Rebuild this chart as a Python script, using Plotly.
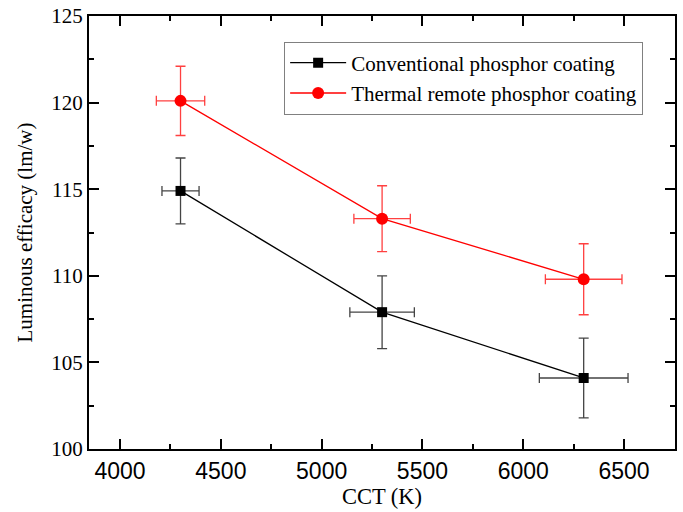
import plotly.graph_objects as go

cct = [4300, 5300, 6300]
conv_eff = [114.9, 107.9, 104.1]
conv_eff_err = [1.9, 2.1, 2.3]
conv_cct_err = [92, 160, 220]
remote_eff = [120.1, 113.3, 109.8]
remote_eff_err = [2.0, 1.9, 2.05]
remote_cct_err = [120, 140, 190]

serif = "Liberation Serif, Times New Roman, serif"
sans = "Liberation Sans, Arial, sans-serif"

fig = go.Figure()
fig.add_trace(go.Scatter(
    x=cct, y=conv_eff, mode="lines+markers", name="Conventional phosphor coating",
    line=dict(color="black", width=1.3),
    marker=dict(symbol="square", size=10, color="black"),
    error_y=dict(type="data", array=conv_eff_err, color="#444444", thickness=1.3, width=5),
    error_x=dict(type="data", array=conv_cct_err, color="#444444", thickness=1.3, width=5),
))
fig.add_trace(go.Scatter(
    x=cct, y=remote_eff, mode="lines+markers", name="Thermal remote phosphor coating",
    line=dict(color="red", width=1.3),
    marker=dict(symbol="circle", size=12, color="red"),
    error_y=dict(type="data", array=remote_eff_err, color="#ff4040", thickness=1.3, width=5),
    error_x=dict(type="data", array=remote_cct_err, color="#ff4040", thickness=1.3, width=5),
))

fig.update_layout(
    width=683, height=512,
    margin=dict(l=89, r=8, t=16, b=63),
    plot_bgcolor="white", paper_bgcolor="white",
    showlegend=True,
    legend=dict(
        x=0.333, y=0.941, xanchor="left", yanchor="top",
        bordercolor="#808080", borderwidth=1, bgcolor="white",
        font=dict(family=serif, size=21, color="black"),
        tracegroupgap=0, itemwidth=56,
        entrywidth=350, entrywidthmode="pixels",
    ),
    xaxis=dict(
        range=[3846, 6753], tickvals=[4000, 4500, 5000, 5500, 6000, 6500],
        ticks="inside", ticklen=10, tickwidth=2, tickcolor="black",
        minor=dict(ticks="inside", dtick=250, tick0=4000, ticklen=5, tickwidth=2, tickcolor="black"),
        showline=True, linewidth=2, linecolor="black", mirror="ticks",
        showgrid=False, zeroline=False, automargin=False,
        tickfont=dict(family=sans, size=23, color="black"),
        title=dict(text="CCT (K)", font=dict(family=serif, size=22.5, color="black"), standoff=4),
    ),
    yaxis=dict(
        range=[100, 125], tickvals=[100, 105, 110, 115, 120, 125],
        ticks="inside", ticklen=10, tickwidth=2, tickcolor="black",
        minor=dict(ticks="inside", dtick=2.5, tick0=100, ticklen=5, tickwidth=2, tickcolor="black"),
        showline=True, linewidth=2, linecolor="black", mirror="ticks",
        showgrid=False, zeroline=False, automargin=False,
        tickfont=dict(family=serif, size=21, color="black"),
        title=dict(text="Luminous efficacy (lm/w)", font=dict(family=serif, size=21, color="black"), standoff=13),
    ),
)

fig.write_html("out.html", config={"displayModeBar": False},
               post_script="document.body.style.margin='0';document.body.style.overflow='hidden';")
